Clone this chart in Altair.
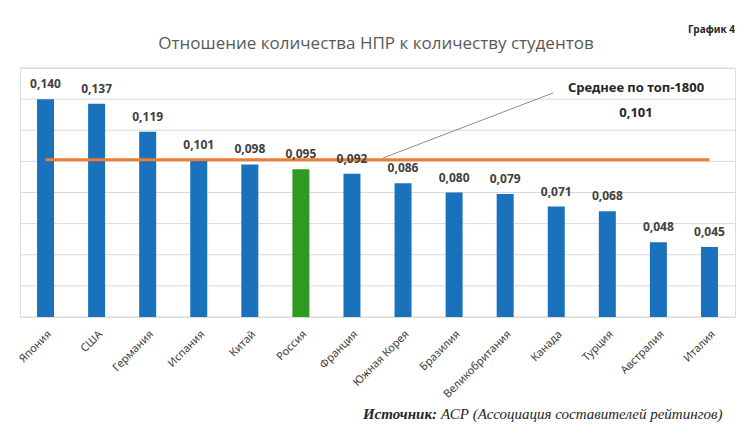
import altair as alt
import pandas as pd

countries = ["Япония", "США", "Германия", "Испания", "Китай", "Россия", "Франция",
             "Южная Корея", "Бразилия", "Великобритания", "Канада", "Турция",
             "Австралия", "Италия"]
values = [0.140, 0.137, 0.119, 0.101, 0.098, 0.095, 0.092, 0.086, 0.080, 0.079,
          0.071, 0.068, 0.048, 0.045]
highlight = ["Россия"]
average_value = 0.101
y_ticks = [0, 0.02, 0.04, 0.06, 0.08, 0.10, 0.12, 0.14, 0.16]

df = pd.DataFrame({
    "country": countries,
    "value": values,
    "label": [f"{v:.3f}".replace(".", ",") for v in values],
    "kind": ["hl" if c in highlight else "base" for c in countries],
    "avg": [average_value] * len(countries),
})
grid_df = pd.DataFrame({"g": y_ticks})

W, H = 715, 249
xscale = alt.Scale(domain=countries, paddingInner=0.66, paddingOuter=0.33)
yscale = alt.Scale(domain=[0, 0.16], nice=False)

grid = alt.Chart(grid_df).mark_rule(color="#d9d9d9", strokeWidth=1).encode(
    y=alt.Y("g:Q", scale=yscale, axis=None))

base = alt.Chart(df)

bars = base.mark_bar(size=17).encode(
    x=alt.X("country:N", sort=countries, scale=xscale,
            axis=alt.Axis(title=None, labelAngle=-45, labelAlign="right",
                          labelBaseline="top", labelFontSize=11, labelColor="#404040",
                          labelFont="Noto Sans", labelPadding=11, ticks=False,
                          domain=False, grid=False)),
    y=alt.Y("value:Q", scale=yscale, axis=None),
    color=alt.Color("kind:N", scale=alt.Scale(domain=["base", "hl"],
                                              range=["#1a72bd", "#2e9a22"]),
                    legend=None),
)

labels = base.mark_text(baseline="bottom", dy=-8, fontSize=12, fontWeight="bold",
                        color="#404040", font="Noto Sans").encode(
    x=alt.X("country:N", sort=countries, scale=xscale),
    y=alt.Y("value:Q", scale=yscale),
    text="label:N",
)

avg_line = base.mark_line(color="#ed7d31", strokeWidth=3).encode(
    x=alt.X("country:N", sort=countries, scale=xscale),
    y=alt.Y("avg:Q", scale=yscale),
)

leader = alt.Chart(pd.DataFrame({"a": [0]})).mark_rule(color="#8c8c8c", strokeWidth=1).encode(
    x=alt.value(363), y=alt.value(90), x2=alt.value(533), y2=alt.value(25))

ann1 = alt.Chart(pd.DataFrame({"t": ["Среднее по топ-1800"]})).mark_text(
    fontSize=13, fontWeight="bold", color="#262626", font="Noto Sans", align="center"
).encode(x=alt.value(616), y=alt.value(20), text="t:N")
ann2 = alt.Chart(pd.DataFrame({"t": ["0,101"]})).mark_text(
    fontSize=13, fontWeight="bold", color="#262626", font="Noto Sans", align="center"
).encode(x=alt.value(616), y=alt.value(45), text="t:N")

title = alt.Chart(pd.DataFrame({"t": ["Отношение количества НПР к количеству студентов"]})).mark_text(
    fontSize=17, color="#595959", font="Open Sans", align="center"
).encode(x=alt.value(356), y=alt.value(-24), text="t:N")

graf = alt.Chart(pd.DataFrame({"t": ["График 4"]})).mark_text(
    fontSize=10, fontWeight="bold", color="#262626", font="Noto Sans", align="right"
).encode(x=alt.value(715), y=alt.value(-38), text="t:N")

src1 = alt.Chart(pd.DataFrame({"t": ["Источник:"]})).mark_text(
    fontSize=15, fontWeight="bold", fontStyle="italic", color="#262626",
    font="Liberation Serif", align="right"
).encode(x=alt.value(417), y=alt.value(346), text="t:N")
src2 = alt.Chart(pd.DataFrame({"t": ["АСР (Ассоциация составителей рейтингов)"]})).mark_text(
    fontSize=15, fontStyle="italic", color="#262626",
    font="Liberation Serif", align="left"
).encode(x=alt.value(421), y=alt.value(346), text="t:N")

chart = alt.layer(grid, bars, avg_line, labels, leader, ann1, ann2, title, graf, src1, src2).properties(
    width=W, height=H,
    padding={"left": 12, "top": 60, "right": 3, "bottom": 109},
    autosize=alt.AutoSizeParams(type="none"),
).configure_view(stroke=None).configure(background="white")

chart.save("out.html", embed_options={"renderer": "svg", "actions": False})
